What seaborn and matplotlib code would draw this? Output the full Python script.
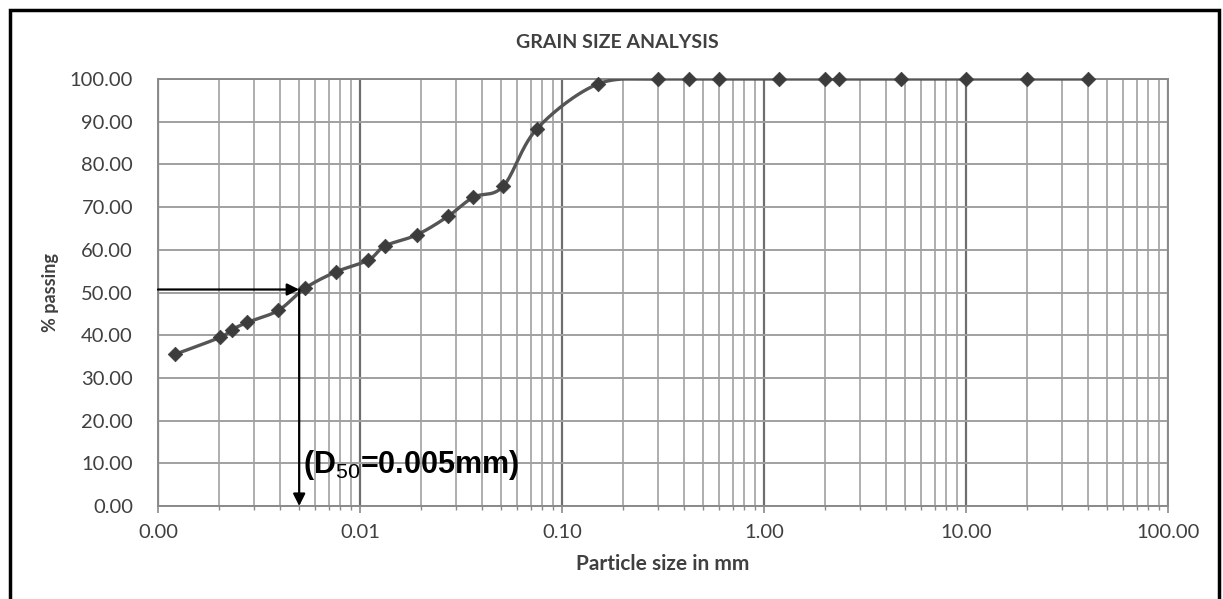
import numpy as np
import pandas as pd
import matplotlib
matplotlib.use("Agg")
import matplotlib.pyplot as plt
import seaborn as sns
from matplotlib.ticker import FixedLocator, LogLocator, NullFormatter, FixedFormatter
from matplotlib.patches import Rectangle

# ---- data ----
particle_size_mm = [0.00121, 0.00203, 0.00232, 0.00277, 0.00394, 0.00534, 0.00758,
                    0.0110, 0.0133, 0.0191, 0.0272, 0.0364, 0.0512, 0.075, 0.15,
                    0.3, 0.425, 0.6, 1.18, 2.0, 2.36, 4.75, 10.0, 20.0, 40.0]
percent_passing = [35.5, 39.5, 41.3, 43.0, 45.8, 51.0, 54.8,
                   57.6, 60.9, 63.5, 67.8, 72.3, 74.9, 88.3, 98.8,
                   100, 100, 100, 100, 100, 100, 100, 100, 100, 100]
x_tick_values = [0.001, 0.01, 0.1, 1, 10, 100]
x_tick_labels = ["0.00", "0.01", "0.10", "1.00", "10.00", "100.00"]
y_tick_values = [0, 10, 20, 30, 40, 50, 60, 70, 80, 90, 100]
y_tick_labels = [f"{v:.2f}" for v in y_tick_values]
d50_mm = 0.005
d50_pct = 50.7
d50_text = r"(D$_{\mathrm{50}}$=0.005mm)"

df = pd.DataFrame({"size": particle_size_mm, "passing": percent_passing})

sns.set_theme(style="white")
plt.rcParams["font.family"] = ["Lato", "DejaVu Sans"]
plt.rcParams["mathtext.fontset"] = "custom"
plt.rcParams["mathtext.rm"] = "Liberation Sans"
plt.rcParams["mathtext.bf"] = "Liberation Sans:bold"

fig = plt.figure(figsize=(12.23, 5.99), dpi=100)
ax = fig.add_axes([158 / 1223, 93 / 599, 1010 / 1223, 427 / 599])

ax.set_xscale("log")
ax.set_xlim(0.001, 100)
ax.set_ylim(0, 100)

# grid
ax.xaxis.set_major_locator(FixedLocator(x_tick_values))
ax.xaxis.set_major_formatter(FixedFormatter(x_tick_labels))
ax.xaxis.set_minor_locator(LogLocator(base=10, subs=np.arange(2, 10), numticks=50))
ax.xaxis.set_minor_formatter(NullFormatter())
ax.set_yticks(y_tick_values)
ax.set_yticklabels(y_tick_labels)
ax.grid(which="minor", axis="x", color="#a8a8a8", lw=1.3)
ax.grid(which="major", axis="x", color="#6e6e6e", lw=1.6)
ax.grid(which="major", axis="y", color="#a0a0a0", lw=1.4)
ax.set_axisbelow(True)
for s in ax.spines.values():
    s.set_color("#8a8a8a")
    s.set_linewidth(1.4)

ax.tick_params(axis="x", which="major", bottom=True, length=5, width=1.2, color="#8a8a8a",
               labelsize=14.5, labelcolor="#404040", pad=8)
ax.tick_params(axis="x", which="minor", bottom=True, length=3, width=1.0, color="#8a8a8a")
ax.tick_params(axis="y", which="major", left=False, labelsize=14.5, labelcolor="#404040", pad=12)

# smoothed line (Excel-like cardinal spline in screen-proportional space)
u = (np.log10(df["size"].values) + 3) * 202.0
v = df["passing"].values * 4.27
pts = np.column_stack([u, v])
curve = []
n = len(pts)
for i in range(n - 1):
    p0 = pts[i - 1] if i > 0 else pts[i]
    p1 = pts[i]
    p2 = pts[i + 1]
    p3 = pts[i + 2] if i + 2 < n else pts[i + 1]
    c1 = p1 + (p2 - p0) / 6.0
    c2 = p2 - (p3 - p1) / 6.0
    t = np.linspace(0, 1, 30)[:, None]
    seg = (1 - t) ** 3 * p1 + 3 * (1 - t) ** 2 * t * c1 + 3 * (1 - t) * t ** 2 * c2 + t ** 3 * p2
    curve.append(seg)
curve = np.vstack(curve)
cx = 10 ** (curve[:, 0] / 202.0 - 3)
cy = np.minimum(curve[:, 1] / 4.27, 100.0)
ax.plot(cx, cy, color="#555555", lw=2.4, zorder=3, solid_capstyle="round")

sns.scatterplot(data=df, x="size", y="passing", ax=ax, marker="D", s=55,
                color="#3c3c3c", edgecolor="#3c3c3c", linewidth=0.5, zorder=4, clip_on=False)

# D50 arrows
ax.annotate("", xy=(d50_mm, d50_pct), xytext=(0.001, d50_pct),
            arrowprops=dict(arrowstyle="-|>", color="black", lw=1.6, mutation_scale=18,
                            shrinkA=0, shrinkB=0), zorder=5)
ax.annotate("", xy=(d50_mm, 0), xytext=(d50_mm, d50_pct),
            arrowprops=dict(arrowstyle="-|>", color="black", lw=1.6, mutation_scale=18,
                            shrinkA=0, shrinkB=0), zorder=5)
ax.text(0.0052, 9.6, d50_text, fontsize=22, fontweight="bold", color="black",
        family=["Liberation Sans", "DejaVu Sans"], ha="left", va="center", zorder=6)

ax.set_xlabel("Particle size in mm", fontsize=15, fontweight="bold", color="#404040", labelpad=9)
ax.set_ylabel("% passing", fontsize=13, fontweight="bold", color="#404040", labelpad=8)
fig.text(617 / 1223, 1 - 42 / 599, "GRAIN SIZE ANALYSIS", fontsize=14, fontweight="bold",
         color="#404040", ha="center", va="center")

# outer frame
fig.patches.append(Rectangle((10 / 1223, -0.05), 1209 / 1223, 1 - 10 / 599 + 0.05,
                             transform=fig.transFigure, fill=False, edgecolor="black", lw=2.5))

fig.savefig("out.png", dpi=100)
